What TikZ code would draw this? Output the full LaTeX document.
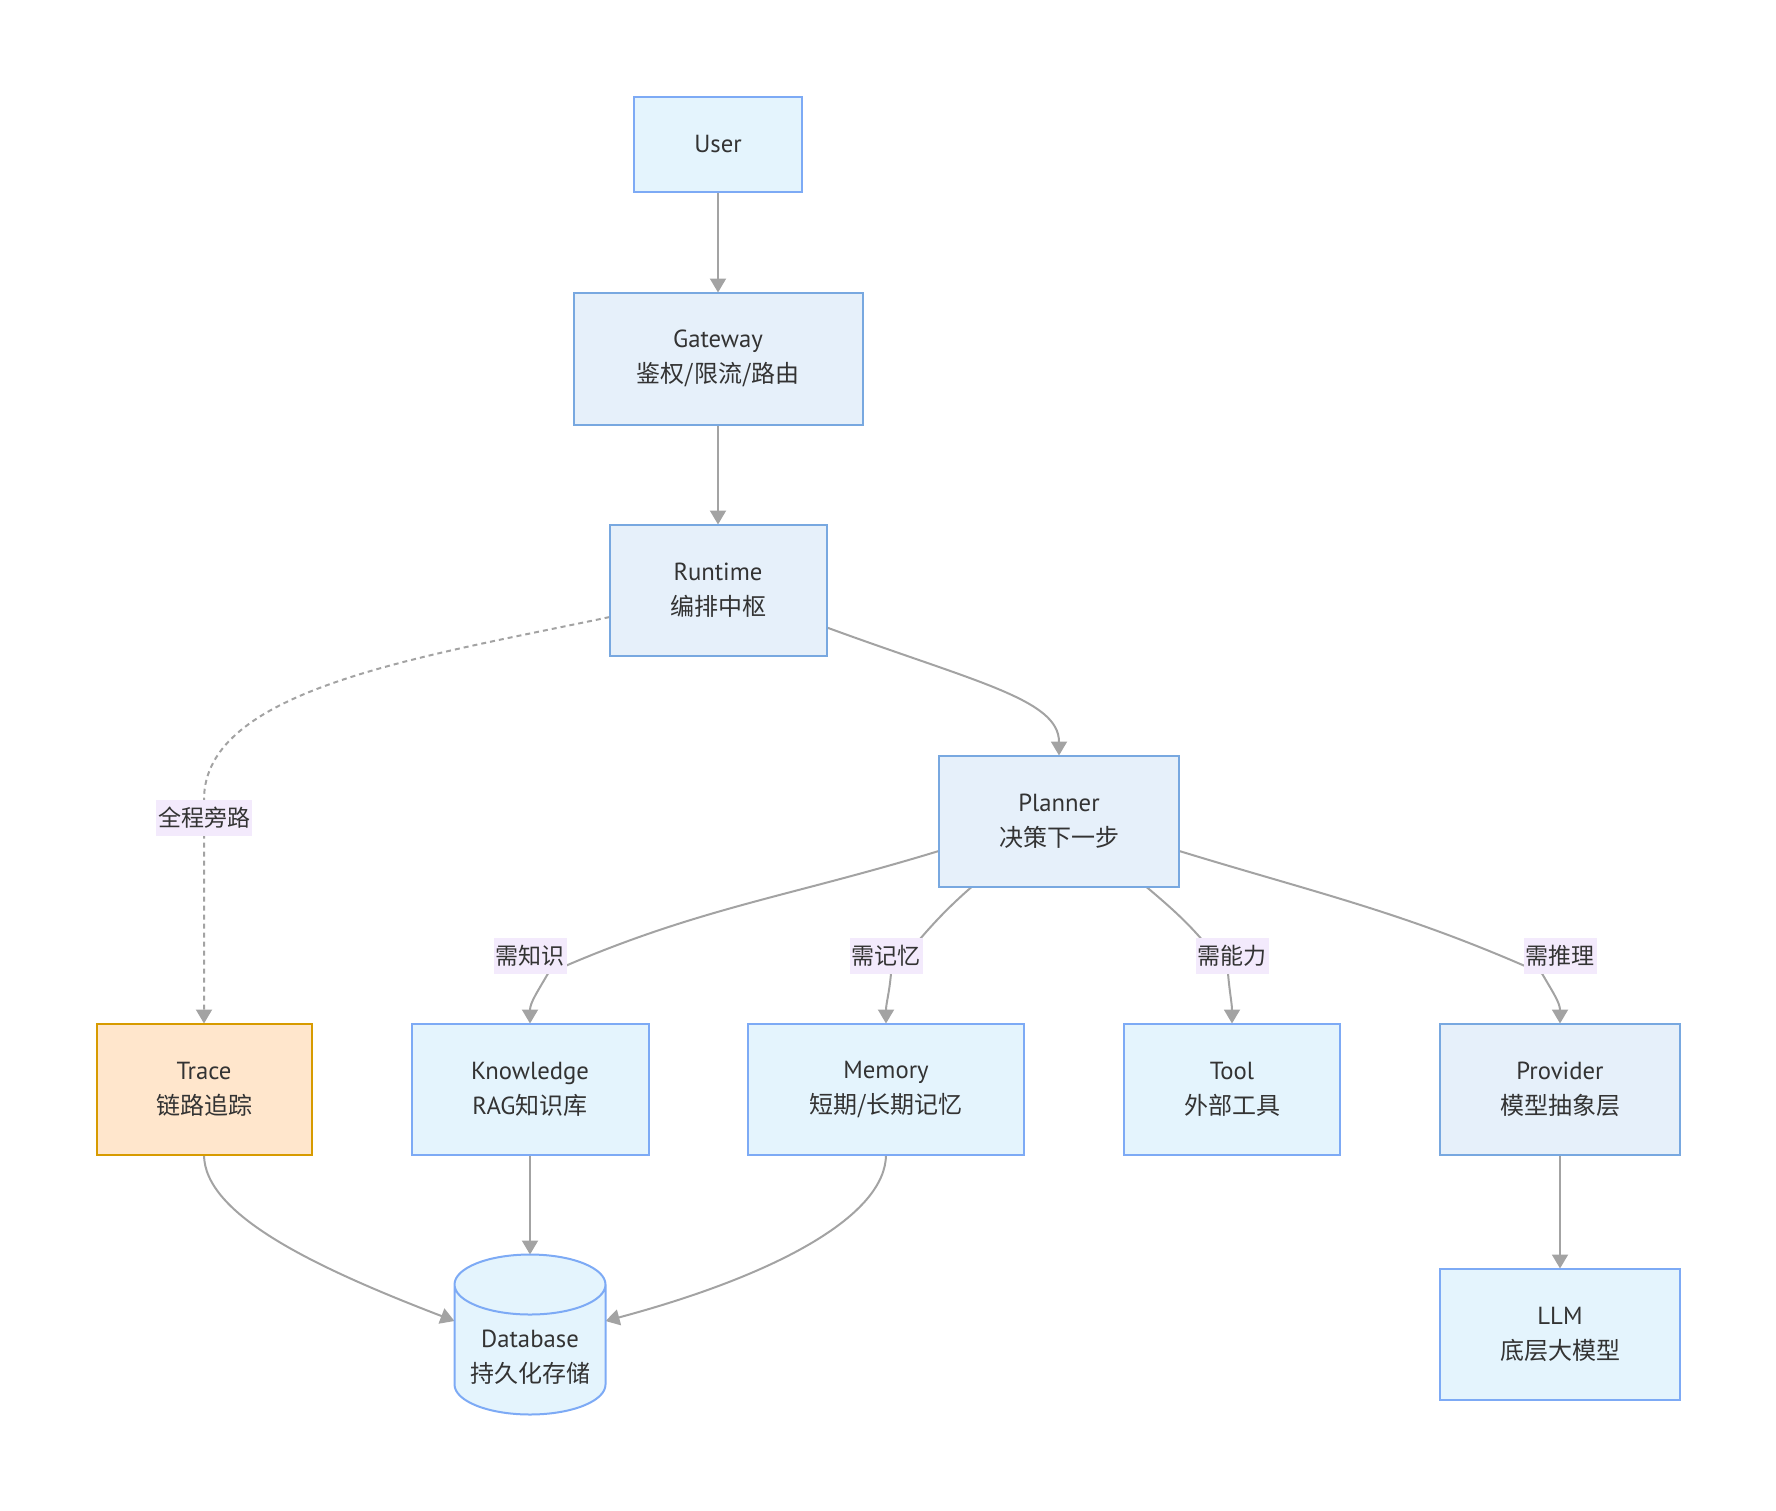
\documentclass[tikz,border=0pt]{standalone}
\usepackage{fontspec}
\setmainfont[Scale=1.03]{PT Sans}
\newfontfamily\cjk{Noto Sans CJK SC}
\usepackage{xcolor}
\usepackage{tikz}
\usetikzlibrary{arrows.meta,positioning,backgrounds,calc,shapes.geometric}
\newcommand{\zh}[1]{{\cjk #1}}
\definecolor{nodefill}{HTML}{E4F4FD}
\definecolor{nodeline}{HTML}{7DAAF5}
\definecolor{corefill}{HTML}{E6F0FA}
\definecolor{coreline}{HTML}{78A8E0}
\definecolor{tracefill}{HTML}{FFE6CC}
\definecolor{traceline}{HTML}{D79B00}
\definecolor{labelfill}{HTML}{F3EAFC}
\definecolor{edgeline}{HTML}{A3A3A3}
\definecolor{textgray}{HTML}{333333}
\tikzset{
    box/.style={
        rectangle,
        fill=nodefill,
        draw=nodeline,
        line width=1pt,
        text=textgray,
        align=center,
        font=\fontsize{12}{17.5}\selectfont,
        minimum height=65.5pt,
        inner sep=0pt,
        outer sep=0pt
        },
    cbox/.style={ % core boxes
        box,
        fill=corefill,
        draw=coreline
        },
    tbox/.style={ % trace box
        box,
        fill=tracefill,
        draw=traceline
        },
    dbox/.style={ % storage cylinder
        box,
        cylinder,
        shape border rotate=90,
        aspect=0.5,
        minimum width=75.5pt,
        minimum height=79.5pt
        },
    elabel/.style={ % edge label
        rectangle,
        fill=labelfill,
        text=textgray,
        inner xsep=1pt,
        inner ysep=3.5pt,
        outer sep=0pt,
        font=\fontsize{11.5}{14}\selectfont
        },
    arrout/.style={
        draw=edgeline,
        line width=1pt,
        -{Triangle[width=8pt,length=7pt]}
        },
    arrdash/.style={ % dashed bypass
        arrout,
        dash pattern=on 2.5pt off 2pt
        }
}

\begin{document}
\begin{tikzpicture}
		\useasboundingbox (0,0) rectangle (888pt,-755pt);
		
		%%%%% node user
		\node[box,minimum width=84pt,minimum height=47.5pt] (user) at (359pt,-72pt) {User};
		
		%%%%% node gateway
		\node[cbox,below=50.5pt of user,minimum width=144.5pt,minimum height=66pt] (gateway)
			{Gateway\\\zh{鉴权/限流/路由}};
		
		%%%%% node runtime
		\node[cbox,below=50pt of gateway,minimum width=108.5pt] (runtime)
			{Runtime\\\zh{编排中枢}};
		
		%%%%% node planner
		\node[cbox,below=50pt of runtime,xshift=170.5pt,minimum width=120pt] (planner)
			{Planner\\\zh{决策下一步}};
		
		%%%%% node trace
		\node[tbox,below=68.5pt of planner,xshift=-427.5pt,minimum width=107.5pt] (trace)
			{Trace\\\zh{链路追踪}};
		
		%%%%% node knowledge
		\node[box,below=68.5pt of planner,xshift=-264.5pt,minimum width=118.5pt] (knowledge)
			{Knowledge\\RAG\zh{知识库}};
		
		%%%%% node memory
		\node[box,below=68.5pt of planner,xshift=-86.5pt,minimum width=138pt] (memory)
			{Memory\\\zh{短期/长期记忆}};
		
		%%%%% node tool
		\node[box,below=68.5pt of planner,xshift=86.5pt,minimum width=108pt] (tool)
			{Tool\\\zh{外部工具}};
		
		%%%%% node provider
		\node[cbox,below=68.5pt of planner,xshift=250.5pt,minimum width=120pt] (provider)
			{Provider\\\zh{模型抽象层}};
		
		%%%%% node llm
		\node[box,below=57pt of provider,minimum width=120pt] (llm)
			{LLM\\\zh{底层大模型}};
		
		%%%%% node db (strut pushes the text below the lid)
		\node[dbox,below=50pt of knowledge] (db)
			{\rule{0pt}{16pt}Database\\\zh{持久化存储}};
		
		%%%%% edge labels
		\node[elabel,above=94pt of trace] (lbypass) {\zh{全程旁路}};
		\node[elabel,above=25pt of knowledge] (lknow) {\zh{需知识}};
		\node[elabel,above=25pt of memory] (lmem) {\zh{需记忆}};
		\node[elabel,above=25pt of tool] (ltool) {\zh{需能力}};
		\node[elabel,above=25pt of provider] (lprov) {\zh{需推理}};
		\coordinate[above=112pt of trace] (tbend);
		
		\begin{pgfonlayer}{background}
		%%%%% main chain
		\draw[arrout] (user) -- (gateway);
		\draw[arrout] (gateway) -- (runtime);
		\draw[arrout] (runtime.-19) .. controls +(75pt,-27.5pt) and +(0,28pt) .. (planner.north);
		
		%%%%% bypass to trace
		\draw[arrdash] (runtime.194) .. controls +(-94.5pt,-20pt) and +(0,55pt) .. (tbend) -- (trace.north);
		
		%%%%% planner fan-out
		\draw[arrout] (planner.194) to[out=197,in=24] ($(lknow.south)+(9pt,0)$)
			to[out=-120,in=90] (knowledge.north);
		\draw[arrout] (planner.217) to[out=221,in=50] ($(lmem.south)+(2.5pt,0)$)
			to[out=-95,in=90] (memory.north);
		\draw[arrout] (planner.-37) to[out=-40,in=125] ($(ltool.south)+(-2pt,0)$)
			to[out=-85,in=90] (tool.north);
		\draw[arrout] (planner.-14) to[out=-17,in=156] ($(lprov.south)+(-9pt,0)$)
			to[out=-60,in=90] (provider.north);
		
		%%%%% storage
		\draw[arrout] (trace.south) .. controls +(0,-30pt) and +(159:75pt) .. (db.159);
		\draw[arrout] (knowledge.south) -- (db.north);
		\draw[arrout] (memory.south) .. controls +(0,-30pt) and +(15:90pt) .. (db.21);
		\draw[arrout] (provider) -- (llm);
		\end{pgfonlayer}
\end{tikzpicture}
\end{document}
